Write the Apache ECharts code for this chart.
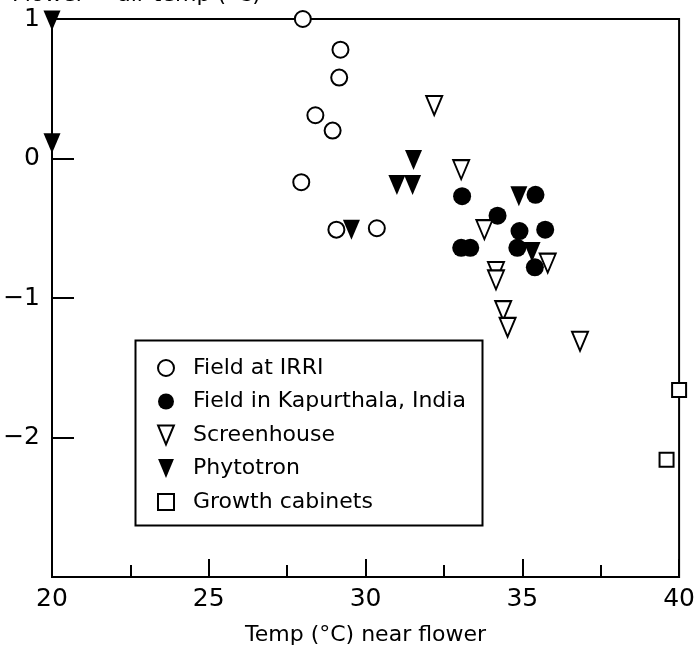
<!DOCTYPE html>
<html><head><meta charset="utf-8">
<script src="https://cdn.jsdelivr.net/npm/echarts@6/dist/echarts.min.js"></script>
<style>html,body{margin:0;padding:0;background:#fff}#c{width:698px;height:652px}</style>
</head><body><div id="c"></div>
<script>
// ---- data ----
const seriesNames = ['Field at IRRI', 'Field in Kapurthala, India', 'Screenhouse', 'Phytotron', 'Growth cabinets'];

const irriX = [28.0, 29.2, 29.16, 28.4, 28.95, 27.95, 29.07, 30.36];
const irriY = [1.0, 0.78, 0.58, 0.31, 0.20, -0.17, -0.51, -0.50];

const kapX = [33.08, 34.21, 35.42, 34.91, 35.73, 33.05, 33.34, 34.84, 35.40];
const kapY = [-0.27, -0.41, -0.26, -0.52, -0.51, -0.64, -0.64, -0.64, -0.78];

const screenX = [32.19, 33.05, 33.79, 34.16, 34.16, 34.39, 34.53, 35.81, 36.84];
const screenY = [0.38, -0.08, -0.51, -0.81, -0.87, -1.09, -1.21, -0.75, -1.31];

const phytoX = [20.0, 20.0, 31.53, 31.0, 31.5, 29.55, 34.89, 35.31];
const phytoY = [0.99, 0.11, -0.01, -0.19, -0.19, -0.51, -0.27, -0.67];

const cabX = [40.0, 39.6];
const cabY = [-1.66, -2.16];

const xTickLabels = ['20', '25', '30', '35', '40'];
const yTickLabels = ['1', '0', '\u22121', '\u22122'];
const xTitle = 'Temp (\u00B0C) near flower';
const yTitle = 'Flower \u2212 air temp (\u00B0C)';

// ---- build ----
const zip = (xs, ys) => xs.map((x, i) => [x, ys[i]]);
const FONT = 'DejaVu Sans';
const downTri = 'path://M0,0L10,0L5,12Z';
const square = 'path://M0,0L10,0L10,10L0,10Z';
const openStyle = { color: '#fff', borderColor: '#000', borderWidth: 2, opacity: 1 };
const fillStyle = { color: '#000', borderColor: '#000', borderWidth: 0, opacity: 1 };

const chart = echarts.init(document.getElementById('c'), null, { renderer: 'canvas' });
chart.setOption({
  animation: false,
  backgroundColor: '#fff',
  textStyle: { fontFamily: FONT, color: '#000' },
  grid: { left: 52, right: 13, top: 19, bottom: 75, show: true, borderColor: '#000', borderWidth: 2, backgroundColor: 'transparent' },
  xAxis: {
    type: 'value', min: 20, max: 40, interval: 5,
    name: xTitle, nameLocation: 'middle', nameGap: 47,
    nameTextStyle: { fontFamily: FONT, fontSize: 22, color: '#000' },
    axisLine: { show: true, onZero: false, lineStyle: { color: '#000', width: 2 } },
    axisTick: { show: true, inside: true, length: 18, lineStyle: { color: '#000', width: 2 } },
    minorTick: { show: true, splitNumber: 2, length: 12, lineStyle: { color: '#000', width: 2 } },
    splitLine: { show: false },
    axisLabel: {
      margin: 10, fontFamily: FONT, fontSize: 25, color: '#000',
      formatter: v => { const i = (v - 20) / 5; return Number.isInteger(i) && xTickLabels[i] ? xTickLabels[i] : ''; }
    }
  },
  yAxis: {
    type: 'value', min: -3, max: 1, interval: 1,
    axisLine: { show: true, onZero: false, lineStyle: { color: '#000', width: 2 } },
    axisTick: { show: true, inside: true, length: 22, lineStyle: { color: '#000', width: 2 } },
    splitLine: { show: false },
    axisLabel: {
      margin: 12, fontFamily: FONT, fontSize: 25, color: '#000',
      formatter: v => { const i = 1 - v; return yTickLabels[i] !== undefined ? yTickLabels[i] : ''; }
    }
  },
  graphic: [
    { type: 'rect', left: 133, top: 338, shape: { width: 347, height: 185 }, style: { fill: 'none', stroke: '#000', lineWidth: 2 }, z: 5 },
    { type: 'text', left: 12, top: -16, style: { text: yTitle, font: '22px "DejaVu Sans"', fill: '#000' }, z: 5 }
  ],
  legend: {
    orient: 'vertical', left: 157, top: 357, padding: 0, itemGap: 11.5,
    itemWidth: 16, itemHeight: 19, symbolKeepAspect: true,
    textStyle: { fontFamily: FONT, fontSize: 22, color: '#000', padding: [0, 0, 0, 14] },
    data: [
      { name: seriesNames[0], icon: 'circle' },
      { name: seriesNames[1], icon: 'circle' },
      { name: seriesNames[2], icon: downTri },
      { name: seriesNames[3], icon: downTri },
      { name: seriesNames[4], icon: square }
    ],
    selectedMode: false, z: 6
  },
  series: [
    { name: seriesNames[0], type: 'scatter', clip: false, symbol: 'circle', symbolSize: 16, itemStyle: openStyle, data: zip(irriX, irriY), z: 3 },
    { name: seriesNames[1], type: 'scatter', clip: false, symbol: 'circle', symbolSize: 18, itemStyle: fillStyle, data: zip(kapX, kapY), z: 3 },
    { name: seriesNames[2], type: 'scatter', clip: false, symbol: downTri, symbolSize: [16, 19], itemStyle: openStyle, data: zip(screenX, screenY), z: 4 },
    { name: seriesNames[3], type: 'scatter', clip: false, symbol: downTri, symbolSize: [17, 20], itemStyle: fillStyle, data: zip(phytoX, phytoY), z: 4 },
    { name: seriesNames[4], type: 'scatter', clip: false, symbol: square, symbolSize: 14, itemStyle: openStyle, data: zip(cabX, cabY), z: 3 }
  ]
});
</script>
</body></html>
